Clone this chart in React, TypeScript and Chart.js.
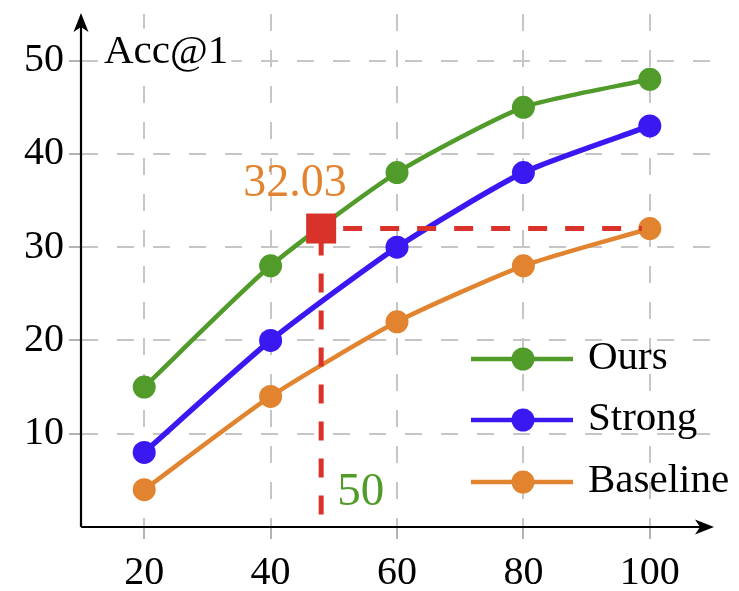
import React, { useEffect, useRef } from "react";
import { Chart, registerables } from "chart.js";

Chart.register(...registerables);

// ---- data ----
const xValues = [20, 40, 60, 80, 100];
const oursValues = [15, 28, 38, 45, 48];
const strongValues = [8, 20, 30, 38, 43];
const baselineValues = [4, 14, 22, 28, 32];
const seriesNames = ["Ours", "Strong", "Baseline"];
const xTickValues = [20, 40, 60, 80, 100];
const yTickValues = [10, 20, 30, 40, 50];
const xRange = [10, 110];
const yRange = [0, 55];
const markerX = 48;
const markerY = 32;
const markerValueLabel = "32.03";
const markerXLabel = "50";
const yAxisTitle = "Acc@1";

// ---- styles ----
const GREEN = "#509b2a";
const BLUE = "#3a18f2";
const ORANGE = "#e2842f";
const RED = "#d9322a";
const GRID = "#c6c6c6";
const TICK = "#9a9a9a";
const FONT = "'Liberation Serif', 'DejaVu Serif', serif";
const seriesColors = [GREEN, BLUE, ORANGE];
const seriesWidths = [4.5, 5.5, 4.5];

function drawArrow(ctx: CanvasRenderingContext2D, tx: number, ty: number, dx: number, dy: number) {
  const len = 19, half = 7.5, notch = 5;
  const px = -dy, py = dx;
  ctx.beginPath();
  ctx.moveTo(tx, ty);
  ctx.lineTo(tx - dx * len + px * half, ty - dy * len + py * half);
  ctx.lineTo(tx - dx * (len - notch), ty - dy * (len - notch));
  ctx.lineTo(tx - dx * len - px * half, ty - dy * len - py * half);
  ctx.closePath();
  ctx.fill();
}

const overlayPlugin = {
  id: "overlay",
  beforeDatasetsDraw(chart: any) {
    const { ctx, chartArea } = chart;
    const { left, right, top, bottom } = chartArea;
    ctx.save();
    // y axis title with white box
    ctx.font = `41px ${FONT}`;
    const tw = ctx.measureText(yAxisTitle).width;
    const tx = left + 23;
    const ty = chart.scales.y.getPixelForValue(50) + 2;
    ctx.fillStyle = "#ffffff";
    ctx.fillRect(tx - 3, ty - 34, tw + 6, 46);
    ctx.fillStyle = "#000";
    ctx.textBaseline = "alphabetic";
    ctx.textAlign = "left";
    ctx.fillText(yAxisTitle, tx, ty);
    // axes
    ctx.strokeStyle = "#000";
    ctx.fillStyle = "#000";
    ctx.lineWidth = 2.2;
    ctx.beginPath();
    ctx.moveTo(left, bottom);
    ctx.lineTo(left, top + 6);
    ctx.moveTo(left, bottom);
    ctx.lineTo(right - 6, bottom);
    ctx.stroke();
    drawArrow(ctx, left, top - 1, 0, -1);
    drawArrow(ctx, right + 1, bottom, 1, 0);
    ctx.restore();
  },
  afterDatasetsDraw(chart: any) {
    const { ctx, chartArea } = chart;
    const xs = chart.scales.x;
    const ys = chart.scales.y;
    const mx = xs.getPixelForValue(markerX);
    const my = ys.getPixelForValue(markerY);
    const endX = xs.getPixelForValue(xValues[xValues.length - 1]);
    ctx.save();
    ctx.strokeStyle = RED;
    ctx.lineWidth = 5;
    ctx.setLineDash([19, 18]);
    ctx.lineDashOffset = 15;
    ctx.beginPath();
    ctx.moveTo(mx, my);
    ctx.lineTo(endX - 8, my);
    ctx.stroke();
    ctx.lineDashOffset = -8;
    ctx.beginPath();
    ctx.moveTo(mx, my);
    ctx.lineTo(mx, chartArea.bottom - 1);
    ctx.stroke();
    ctx.setLineDash([]);
    ctx.fillStyle = RED;
    ctx.fillRect(mx - 15, my - 15, 30, 30);
    // labels
    ctx.textAlign = "left";
    ctx.textBaseline = "alphabetic";
    ctx.fillStyle = ORANGE;
    ctx.font = `46px ${FONT}`;
    ctx.fillText(markerValueLabel, mx - 78, my - 33);
    ctx.fillStyle = GREEN;
    ctx.font = `47px ${FONT}`;
    ctx.fillText(markerXLabel, mx + 16, chartArea.bottom - 22);

    // legend
    const lx0 = chartArea.right - 242;
    const lx1 = lx0 + 102;
    const cx = lx0 + 52;
    const rows = [chartArea.bottom - 168, chartArea.bottom - 107, chartArea.bottom - 45];
    ctx.font = `41px ${FONT}`;
    seriesNames.forEach((name, i) => {
      const ry = rows[i];
      ctx.strokeStyle = seriesColors[i];
      ctx.lineWidth = 4.5;
      ctx.beginPath();
      ctx.moveTo(lx0, ry);
      ctx.lineTo(lx1, ry);
      ctx.stroke();
      ctx.fillStyle = seriesColors[i];
      ctx.beginPath();
      ctx.arc(cx, ry, 11.5, 0, Math.PI * 2);
      ctx.fill();
      ctx.fillStyle = "#000";
      ctx.fillText(name, lx1 + 15, ry + 10);
    });
    ctx.restore();
  },
};

export default function App() {
  const ref = useRef<HTMLCanvasElement>(null);
  useEffect(() => {
    if (!ref.current) return;
    const mk = (vals: number[]) => xValues.map((x, i) => ({ x, y: vals[i] }));
    const all = [oursValues, strongValues, baselineValues];
    const zeroPad = (s: any) => {
      s.paddingTop = 0;
      s.paddingBottom = 0;
      s.paddingLeft = 0;
      s.paddingRight = 0;
    };
    const chart = new Chart(ref.current, {
      type: "line",
      data: {
        datasets: all.map((vals, i) => ({
          label: seriesNames[i],
          data: mk(vals),
          borderColor: seriesColors[i],
          backgroundColor: seriesColors[i],
          pointBackgroundColor: seriesColors[i],
          pointBorderWidth: 0,
          pointRadius: 11.5,
          borderWidth: seriesWidths[i],
          tension: 0.2,
          fill: false,
        })),
      },
      options: {
        animation: false,
        responsive: false,
        events: [],
        layout: { padding: { top: 14, right: 26, left: 0, bottom: 0 } },
        plugins: { legend: { display: false }, tooltip: { enabled: false } },
        scales: {
          x: {
            type: "linear",
            min: xRange[0],
            max: xRange[1],
            afterBuildTicks: (s: any) => {
              s.ticks = xTickValues.map((v) => ({ value: v }));
            },
            afterFit: (s: any) => {
              s.height = 64;
              zeroPad(s);
            },
            grid: {
              color: GRID,
              lineWidth: 2,
              tickLength: 12,
              tickColor: TICK,
              tickWidth: 1.5,
              tickBorderDash: [],
            },
            border: { display: false, dash: [17, 19] },
            ticks: {
              color: "#000",
              font: { family: FONT, size: 40 },
              padding: 10,
              maxRotation: 0,
              autoSkip: false,
            },
          },
          y: {
            type: "linear",
            min: yRange[0],
            max: yRange[1],
            afterBuildTicks: (s: any) => {
              s.ticks = yTickValues.map((v) => ({ value: v }));
            },
            afterFit: (s: any) => {
              s.width = 81;
              zeroPad(s);
            },
            grid: {
              color: GRID,
              lineWidth: 2,
              tickLength: 12,
              tickColor: TICK,
              tickWidth: 1.5,
              tickBorderDash: [],
            },
            border: { display: false, dash: [17, 19] },
            ticks: {
              color: "#000",
              font: { family: FONT, size: 40 },
              padding: 5,
              autoSkip: false,
            },
          },
        },
      },
      plugins: [overlayPlugin],
    });
    return () => chart.destroy();
  }, []);
  return (
    <div style={{ position: "fixed", left: 0, top: 0, width: 739, height: 591, background: "#fff" }}>
      <canvas ref={ref} width={739} height={591} style={{ display: "block" }} />
    </div>
  );
}
